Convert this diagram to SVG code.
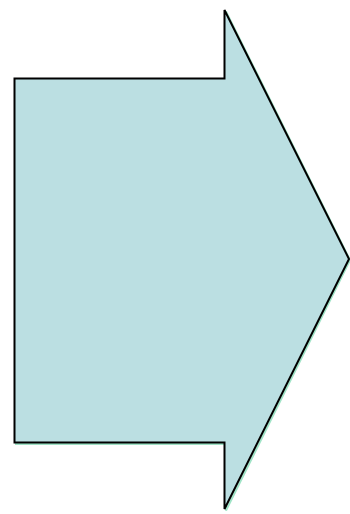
<svg xmlns="http://www.w3.org/2000/svg" width="350" height="514" viewBox="0 0 350 514">
<style>
.sh{fill:none;stroke:#5fd0a0;stroke-width:2;stroke-opacity:0.6}
.ar{fill:#bbdfe2;stroke:#000;stroke-width:2;stroke-linejoin:miter}
</style>
<rect width="350" height="514" fill="#fff"/>
<g id="arrow">
<polygon class="sh" points="16,80 226,80 226,11.5 350,260 226,510.5 226,444 16,444"/>
<polygon class="ar" points="14.5,78.5 224.5,78.5 224.5,10 349,259 224.5,509 224.5,442.5 14.5,442.5"/>
</g>
</svg>
